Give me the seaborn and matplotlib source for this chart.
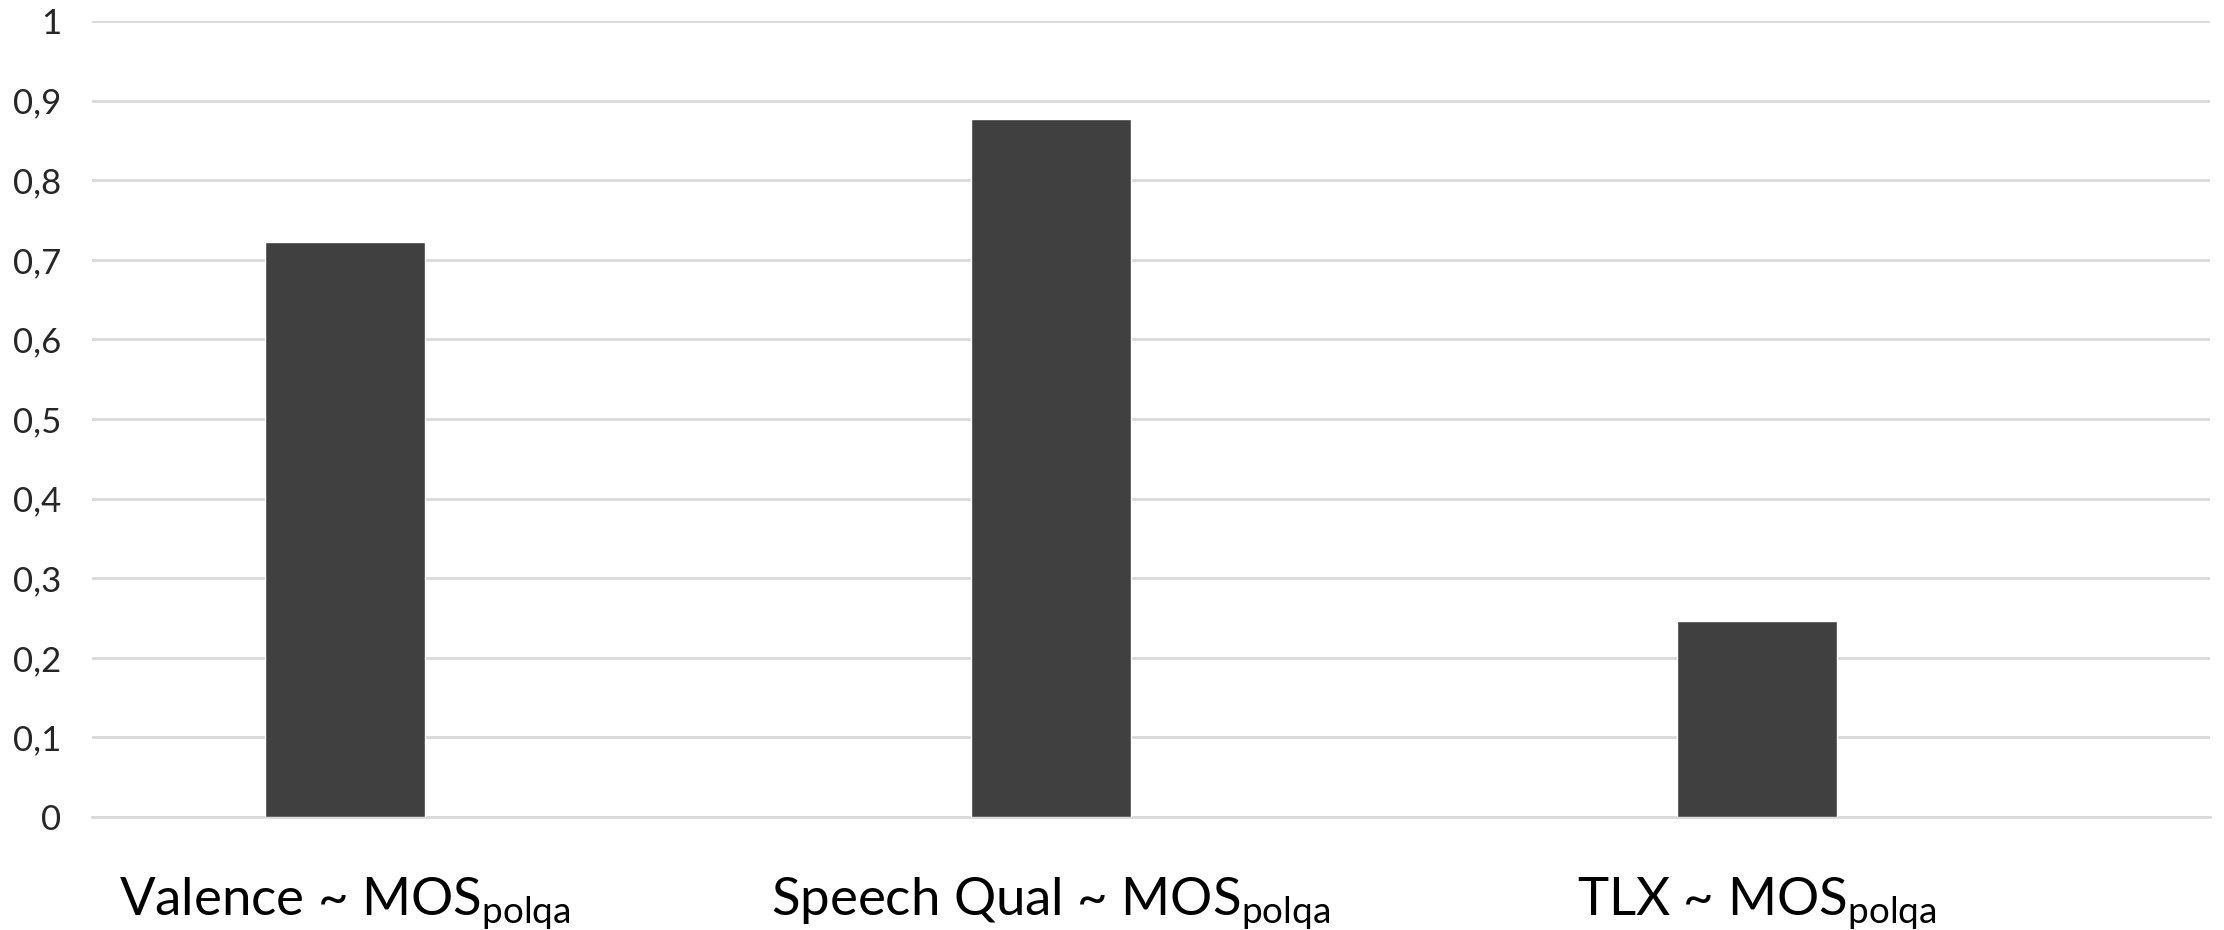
import matplotlib
matplotlib.use("Agg")
import matplotlib.pyplot as plt
import seaborn as sns
import pandas as pd

categories = [
    "Valence ~ MOS$_\\mathregular{polqa}$",
    "Speech Qual ~ MOS$_\\mathregular{polqa}$",
    "TLX ~ MOS$_\\mathregular{polqa}$",
]
values = [0.722, 0.877, 0.246]
y_ticks = [0, 0.1, 0.2, 0.3, 0.4, 0.5, 0.6, 0.7, 0.8, 0.9, 1]
y_tick_labels = ["0", "0,1", "0,2", "0,3", "0,4", "0,5", "0,6", "0,7", "0,8", "0,9", "1"]

sns.set_theme(style="white")
plt.rcParams["font.family"] = ["Lato", "DejaVu Sans"]
plt.rcParams["mathtext.fontset"] = "custom"
plt.rcParams["mathtext.rm"] = "Lato"

df = pd.DataFrame({"category": categories, "value": values})

fig = plt.figure(figsize=(22.24, 9.30), dpi=100)
ax = fig.add_axes([0.0414, 0.1215, 0.9523, 0.8559])

sns.barplot(data=df, x="category", y="value", color="#404040", saturation=1,
            width=0.227, ax=ax, zorder=3)

ax.set_xlim(-0.358, 2.642)
ax.set_ylim(0, 1)
ax.set_yticks(y_ticks)
ax.set_yticklabels(y_tick_labels)
ax.yaxis.grid(True, color="#d9d9d9", linewidth=2)
ax.set_axisbelow(True)
for side in ["left", "right", "top"]:
    ax.spines[side].set_visible(False)
ax.spines["bottom"].set_color("#d9d9d9")
ax.spines["bottom"].set_linewidth(2)
ax.set_xlabel("")
ax.set_ylabel("")
ax.tick_params(axis="y", length=0, pad=22, labelsize=25, labelcolor="#262626")
ax.tick_params(axis="x", length=0, pad=42, labelsize=38, labelcolor="#000000")

fig.savefig("out.png", dpi=100, facecolor="white")
